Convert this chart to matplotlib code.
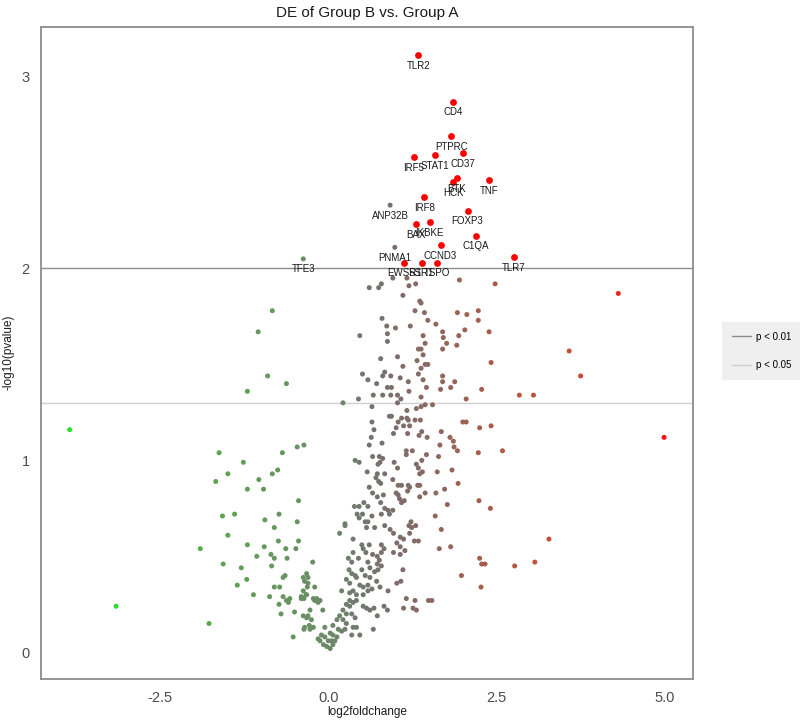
import matplotlib
matplotlib.use("Agg")
import matplotlib.pyplot as plt
import numpy as np
from matplotlib.colors import LinearSegmentedColormap, Normalize
from matplotlib.lines import Line2D

plt.rcParams['font.family'] = ['Liberation Sans', 'DejaVu Sans']
plt.rcParams['axes.unicode_minus'] = False

title = "DE of Group B vs. Group A"
x_label = "log2foldchange"
y_label = "-log10(pvalue)"
x_ticks = [-2.5, 0.0, 2.5, 5.0]
y_ticks = [0, 1, 2, 3]
threshold_labels = ["p < 0.01", "p < 0.05"]
thresholds = [2.0, 1.301]

# unlabeled genes (log2 fold change, -log10 p)
log2fc = [
    0.79, 0.61, 0.75, 0.96, 1.20, 1.30, 1.11, 1.29, 0.80, 0.87,
    1.00, 1.22, 0.88, 0.47, 0.88, 1.34, 0.78, 1.03, 1.32, 1.11,
    0.51, 0.84, 0.59, 0.81, 0.93, 1.07, 0.72, 0.88, 0.94, 1.19,
    1.34, 1.17,
    1.95, 2.48, 1.36, 1.38, 1.43, 1.92, 2.06, 2.23, 2.23, 1.48,
    1.60, 1.70, 2.03, 2.39, 1.41, 1.71, 1.94, 1.44, 1.76, 1.91,
    1.38, 1.70, 1.41, 2.42, 1.44, 1.48, 1.38, 1.70, 1.41, 1.70,
    1.88, 1.46, 1.67, 1.82, 2.28,
    0.22, 0.45, 0.67, 0.65, 0.81, 0.93, 1.03, 1.08, 1.03, 1.20,
    0.91, 0.94, 1.09, 1.17, 1.17, 1.19, 1.29, 1.31, 1.04, 1.12,
    1.21, 1.01, 0.65, 0.68, 0.97, 1.18, 0.64, 0.80, 0.61, 1.16,
    1.16, 1.25, 0.66, 0.76, 0.81, 0.77, 0.74, 0.40, 0.46, 0.98,
    1.03, 1.31, 1.34, 0.58, 0.73, 0.84, 0.71, 0.75, 0.78, 0.96,
    1.04, 1.09, 1.19, 1.21, 1.33, 0.61, 0.66, 0.82, 1.01, 1.04,
    1.18, 1.06, 0.73, 0.78, 1.09, 1.13, 0.39, 0.46, 0.53, 0.59,
    0.84, 0.89, 0.96, 0.43, 0.51, 0.65, 0.79, 0.91, 0.46, 0.55,
    0.59, 0.25, 1.23, -0.36,
    2.84, 3.05, 1.38, 2.05, 1.44, 1.55, 1.38, 1.37, 2.00, 2.05,
    2.42, 2.25, 1.68, 1.39, 1.35, 1.47, 1.81, 1.86, 1.66, 1.87,
    1.92, 2.23, 2.59, 1.46, 1.64, 1.39, 1.40, 1.36, 1.62, 1.84,
    1.93, 1.36, 1.73, 1.44, 1.36, 1.60, 2.24, 1.77, 2.41, 1.59,
    0.25, 0.17, 0.57, 0.69, 0.84, 0.92, 0.97, 1.07, 1.12, 1.20,
    1.24, 1.21, 1.28, 1.34, 0.37, 0.50, 0.52, 0.61, 0.79, 0.83,
    1.02, 1.07, 0.97, 1.07, 1.14, 0.37, 0.56, 0.66, 0.73, 0.79,
    0.30, 0.35, 0.45, 0.59, 0.76, 0.73, 0.79, 0.31, 0.35, 0.50,
    0.62, 0.69, 0.74, 1.11, 0.40, 0.42, 0.55, 0.62, 0.27, 0.32,
    0.47, 0.52, 0.59, 0.65, 0.59, 0.72, 0.77, 1.02, 1.08, 0.20,
    0.32, 0.37, 0.42, 0.52, 0.89, 0.32, 0.37, 0.27, 0.32, 0.42,
    0.52, 0.57, 0.62, 0.68, 0.83, 0.88, 1.16, 1.29, 1.12, 1.26,
    1.31, 0.22, 0.27, 0.17, 0.13, 0.35, 0.40, 0.73, 0.22, 0.27,
    0.37, 0.42, 0.67, 0.47, 0.35, 0.07, 0.15, 0.20, 0.25, 0.03,
    0.07, 0.13, 0.00, 0.05, 0.10, -0.05, -0.10, -0.15, -0.12, -0.07,
    -0.02, 0.03, 0.07, -0.05, -0.23, -0.32, -0.30, -0.37, -0.35, -0.30,
    -0.31, -0.20, -0.37, -0.32, -0.40, -0.22, -0.17, -0.15, -0.27, -0.08,
    -0.37, -0.32, -0.25, -0.28, -0.35, -0.22,
    1.30, 1.68, 1.65, 1.82, 2.25, 2.28, 2.33, 2.77, 3.07, 1.98,
    2.27, 1.49, 1.54, 4.31, 3.58, 3.75, 4.99, 3.28,
    -0.83, -1.04, -0.90, -0.62, -1.20,
    -3.84, -3.15, -1.62, -1.26, -1.49, -1.67, -1.03, -1.20, -0.96, -0.68,
    -0.46, -0.75, -0.83, -0.44, -1.57, -1.39, -0.94, -0.73, -0.46, -1.49,
    -0.80, -1.90, -1.20, -0.95, -0.74, -0.44, -1.06, -0.85, -0.80, -0.63,
    -0.61, -0.48, -1.56, -1.29, -0.84, -0.64, -0.67, -1.35, -1.21, -1.11,
    -0.87, -0.80, -0.72, -0.67, -0.62, -0.57, -0.73, -0.59, -0.50, -0.70,
    -0.40, -0.36, -0.33, -1.77, -0.52, -0.36, -0.27, -0.30, -0.20, -0.12,
]
neglog10p = [
    1.92, 1.90, 1.90, 1.95, 1.91, 1.92, 1.86, 1.78, 1.74, 1.70,
    1.69, 1.70, 1.66, 1.65, 1.62, 1.58, 1.53, 1.54, 1.52, 1.49,
    1.45, 1.46, 1.42, 1.44, 1.44, 1.43, 1.40, 1.38, 1.38, 1.41,
    1.45, 1.95,
    1.94, 1.92, 1.83, 1.82, 1.77, 1.77, 1.76, 1.78, 1.73, 1.73,
    1.71, 1.67, 1.68, 1.67, 1.65, 1.64, 1.65, 1.61, 1.61, 1.60,
    1.58, 1.58, 1.55, 1.51, 1.50, 1.50, 1.48, 1.44, 1.42, 1.41,
    1.41, 1.38, 1.37, 1.38, 1.37,
    1.30, 1.32, 1.34, 1.28, 1.34, 1.34, 1.34, 1.32, 1.30, 1.36,
    1.23, 1.23, 1.22, 1.26, 1.22, 1.21, 1.21, 1.27, 1.20, 1.18,
    1.18, 1.17, 1.20, 1.16, 1.14, 1.14, 1.12, 1.09, 1.08, 1.05,
    1.03, 1.05, 1.02, 1.02, 1.01, 0.99, 0.98, 1.00, 0.99, 0.99,
    0.96, 0.98, 0.96, 0.94, 0.93, 0.93, 0.91, 0.89, 0.88, 0.90,
    0.87, 0.87, 0.87, 0.86, 0.87, 0.86, 0.83, 0.82, 0.83, 0.82,
    0.84, 0.80, 0.81, 0.78, 0.78, 0.79, 0.76, 0.76, 0.78, 0.76,
    0.75, 0.74, 0.74, 0.72, 0.72, 0.71, 0.72, 0.72, 0.70, 0.68,
    0.68, 0.67, 0.68, 1.08,
    1.34, 1.34, 1.33, 1.32, 1.29, 1.29, 1.28, 1.21, 1.20, 1.20,
    1.18, 1.17, 1.15, 1.15, 1.13, 1.12, 1.12, 1.10, 1.08, 1.07,
    1.05, 1.04, 1.05, 1.03, 1.02, 1.00, 0.94, 0.93, 0.94, 0.95,
    0.88, 0.87, 0.85, 0.83, 0.81, 0.83, 0.79, 0.77, 0.75, 0.71,
    0.66, 0.62, 0.65, 0.65, 0.66, 0.64, 0.62, 0.60, 0.59, 0.66,
    0.65, 0.62, 0.58, 0.58, 0.59, 0.56, 0.54, 0.56, 0.56, 0.54,
    0.57, 0.55, 0.52, 0.51, 0.53, 0.52, 0.52, 0.51, 0.50, 0.52,
    0.49, 0.47, 0.49, 0.47, 0.48, 0.46, 0.45, 0.43, 0.41, 0.43,
    0.44, 0.42, 0.43, 0.43, 0.40, 0.39, 0.40, 0.39, 0.38, 0.36,
    0.35, 0.34, 0.35, 0.33, 0.32, 0.37, 0.34, 0.36, 0.37, 0.32,
    0.31, 0.32, 0.30, 0.30, 0.32, 0.27, 0.26, 0.25, 0.24, 0.27,
    0.24, 0.23, 0.22, 0.23, 0.24, 0.22, 0.28, 0.27, 0.23, 0.23,
    0.22, 0.22, 0.20, 0.19, 0.17, 0.20, 0.18, 0.19, 0.17, 0.15,
    0.13, 0.13, 0.12, 0.09, 0.09, 0.14, 0.12, 0.11, 0.12, 0.10,
    0.09, 0.08, 0.06, 0.06, 0.06, 0.08, 0.09, 0.07, 0.06, 0.04,
    0.03, 0.02, 0.04, 0.13, 0.47, 0.41, 0.39, 0.39, 0.37, 0.36,
    0.34, 0.34, 0.32, 0.30, 0.28, 0.28, 0.28, 0.26, 0.22, 0.22,
    0.19, 0.18, 0.17, 0.14, 0.13, 0.13,
    0.66, 0.64, 0.54, 0.55, 0.49, 0.46, 0.46, 0.45, 0.47, 0.40,
    0.34, 0.27, 0.27, 1.87, 1.57, 1.44, 1.12, 0.59,
    1.78, 1.67, 1.44, 1.40, 1.36,
    1.16, 0.24, 1.04, 0.99, 0.93, 0.89, 0.90, 0.85, 0.85, 1.04,
    1.07, 0.95, 0.93, 0.79, 0.71, 0.72, 0.69, 0.72, 0.68, 0.61,
    0.65, 0.54, 0.56, 0.55, 0.58, 0.58, 0.50, 0.51, 0.49, 0.54,
    0.49, 0.54, 0.46, 0.44, 0.45, 0.40, 0.39, 0.35, 0.38, 0.30,
    0.29, 0.34, 0.34, 0.29, 0.27, 0.28, 0.25, 0.26, 0.21, 0.20,
    0.29, 0.28, 0.30, 0.15, 0.08, 0.12, 0.12, 0.19, 0.27, 0.27,
]

# labeled genes
genes = ["TLR2", "CD4", "PTPRC", "CD37", "STAT1", "IRF5", "BTK", "HCK", "TNF",
         "IRF8", "ANP32B", "FOXP3", "BAX", "IKBKE", "C1QA", "CCND3", "PNMA1",
         "TFE3", "TLR7", "EWSR1", "SSR1", "TSPO"]
gene_log2fc = [1.34, 1.86, 1.83, 2.00, 1.59, 1.27, 1.91, 1.86, 2.39,
               1.43, 0.92, 2.07, 1.31, 1.51, 2.19, 1.67, 0.99,
               -0.37, 2.76, 1.13, 1.39, 1.62]
gene_neglog10p = [3.11, 2.87, 2.69, 2.60, 2.59, 2.58, 2.47, 2.45, 2.46,
                  2.37, 2.33, 2.30, 2.23, 2.24, 2.17, 2.12, 2.11,
                  2.05, 2.06, 2.03, 2.03, 2.03]

# colour gradient along log2 fold change
grad_values = [-4.0, -3.0, -2.3, -1.8, -1.0, 0.0, 0.5, 1.0, 1.5, 2.0, 2.5, 3.0, 3.6, 4.3, 5.0]
grad_colors = ["#22e622", "#38d438", "#4fb845", "#5aa84c", "#659a5b", "#6c8a68",
               "#727670", "#7b6e6b", "#8b6962", "#9c6252", "#ad5a46", "#bb553e",
               "#c84e36", "#e62b1c", "#ff1010"]
vmin, vmax = -4.0, 5.0
cmap = LinearSegmentedColormap.from_list(
    "volc", [((v - vmin) / (vmax - vmin), c) for v, c in zip(grad_values, grad_colors)])
norm = Normalize(vmin, vmax)

fig = plt.figure(figsize=(8, 7.23), dpi=100)
ax = fig.add_axes([0.0509, 0.0609, 0.8154, 0.9022])
ax.set_xlim(-4.27, 5.42)
ax.set_ylim(-0.139, 3.26)

line_colors = ["#8c8c8c", "#cfcfcf"]
for yv, lc in zip(thresholds, line_colors):
    ax.axhline(yv, color=lc, lw=1.0, zorder=1)

x = np.array(log2fc)
y = np.array(neglog10p)
ax.scatter(x, y, c=x, cmap=cmap, norm=norm, s=13, linewidths=0, zorder=2)

gx = np.array(gene_log2fc)
gy = np.array(gene_neglog10p)
sig = (gy > 2) & (np.abs(gx) > 1)
ax.scatter(gx[~sig], gy[~sig], c=gx[~sig], cmap=cmap, norm=norm, s=13,
           linewidths=0, zorder=3)
ax.scatter(gx[sig], gy[sig], color="#ff0000", s=24, linewidths=0, zorder=4)
for name, xx, yy in zip(genes, gene_log2fc, gene_neglog10p):
    ax.annotate(name, (xx, yy), xytext=(0, -7.6), textcoords="offset points",
                ha="center", va="center", fontsize=7, color="#1a1a1a", zorder=5)

ax.set_xticks(x_ticks)
ax.set_xticklabels([f"{t:.1f}" for t in x_ticks])
ax.set_yticks(y_ticks)
ax.set_yticklabels([str(t) for t in y_ticks])
ax.tick_params(length=0, labelsize=10.5, labelcolor="#4d4d4d")
ax.tick_params(axis="x", pad=9)
ax.tick_params(axis="y", pad=8)
for sp in ax.spines.values():
    sp.set_color("#8c8c8c")
    sp.set_linewidth(1.3)

fig.text(0.459, 0.982, title, ha="center", va="center", fontsize=11, color="#1a1a1a")
fig.text(0.459, 0.0155, x_label, ha="center", va="center", fontsize=8.5, color="#1a1a1a")
fig.text(0.011, 0.513, y_label, ha="center", va="center", rotation=90,
         fontsize=8.5, color="#1a1a1a")

handles = [Line2D([0], [0], color=c, lw=1.0) for c in line_colors]
leg = ax.legend(handles, threshold_labels, loc="upper left",
                bbox_to_anchor=(0.9025, 0.5546), bbox_transform=fig.transFigure,
                borderaxespad=0, fontsize=7, handlelength=2.0, handletextpad=0.5,
                labelspacing=1.9, borderpad=1.0, frameon=True, fancybox=False)
leg.get_frame().set_facecolor("#ebebeb")
leg.get_frame().set_edgecolor("none")

fig.savefig("out.png", dpi=100)
